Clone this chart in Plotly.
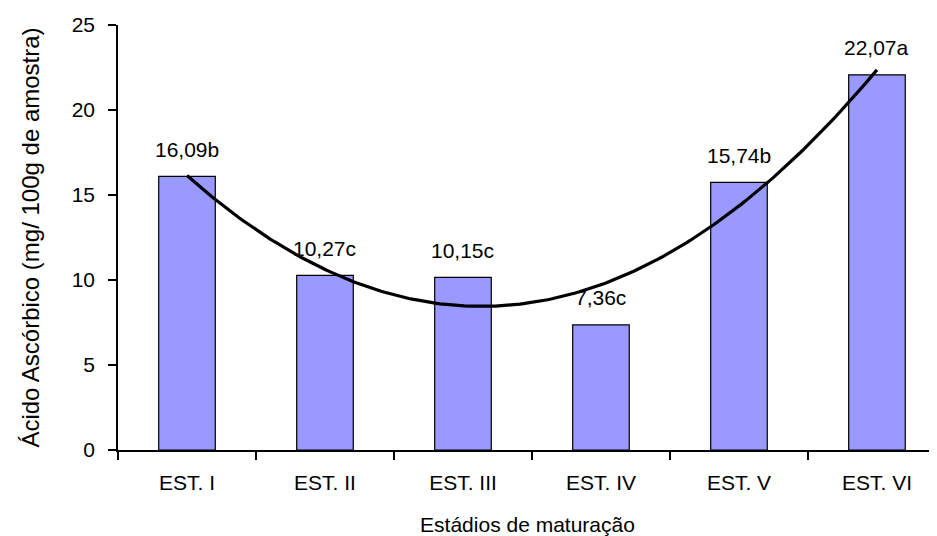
import numpy as np
import plotly.graph_objects as go

categories = ["EST. I", "EST. II", "EST. III", "EST. IV", "EST. V", "EST. VI"]
values = [16.09, 10.27, 10.15, 7.36, 15.74, 22.07]
letters = ["b", "c", "c", "c", "b", "a"]
labels = [f"{v:.2f}".replace(".", ",") + l for v, l in zip(values, letters)]

# quadratic trend line fitted to the bar values
idx = np.arange(len(values))
coef = np.polyfit(idx, values, 2)
xf = np.linspace(0, len(values) - 1, 200)
yf = np.polyval(coef, xf)

FONT = "Liberation Sans, Arial, sans-serif"

fig = go.Figure()
fig.add_trace(go.Bar(
    x=categories, y=values, width=0.41,
    marker=dict(color="#9999FF", line=dict(color="black", width=1.2)),
    showlegend=False, hoverinfo="skip",
))
fig.add_trace(go.Scatter(
    x=xf, y=yf, xaxis="x2", mode="lines",
    line=dict(color="black", width=3.2), showlegend=False, hoverinfo="skip",
))

for c, v, t in zip(categories, values, labels):
    fig.add_annotation(x=c, y=v, text=t, showarrow=False, yanchor="middle",
                       yshift=27, font=dict(size=21, color="black", family=FONT))

# page body has an 8px default margin: size/margins compensate for it
xr = [-0.5, 5.435]
fig.update_layout(
    width=929, height=528,
    margin=dict(l=110, r=0, t=17, b=86),
    paper_bgcolor="white", plot_bgcolor="white",
    font=dict(family=FONT, color="black", size=21),
    xaxis=dict(
        type="category", range=xr, tickson="boundaries", automargin=False,
        ticks="outside", ticklen=8, tickwidth=1.5, tickcolor="black",
        showline=True, linecolor="black", linewidth=1.5,
        showgrid=False, zeroline=False,
        tickfont=dict(size=21), ticklabelstandoff=13,
        title=dict(text="Estádios de maturação", font=dict(size=21), standoff=29),
    ),
    xaxis2=dict(overlaying="x", range=xr, visible=False, showgrid=False, zeroline=False),
    yaxis=dict(
        range=[0, 25], tickvals=[0, 5, 10, 15, 20, 25], automargin=False,
        ticks="outside", ticklen=8, tickwidth=1.5, tickcolor="black",
        showline=True, linecolor="black", linewidth=1.5,
        showgrid=False, zeroline=False,
        tickfont=dict(size=21), ticklabelstandoff=9,
        title=dict(text="Ácido Ascórbico (mg/ 100g de amostra)", font=dict(size=24), standoff=25),
    ),
)

fig.write_html("out.html")
